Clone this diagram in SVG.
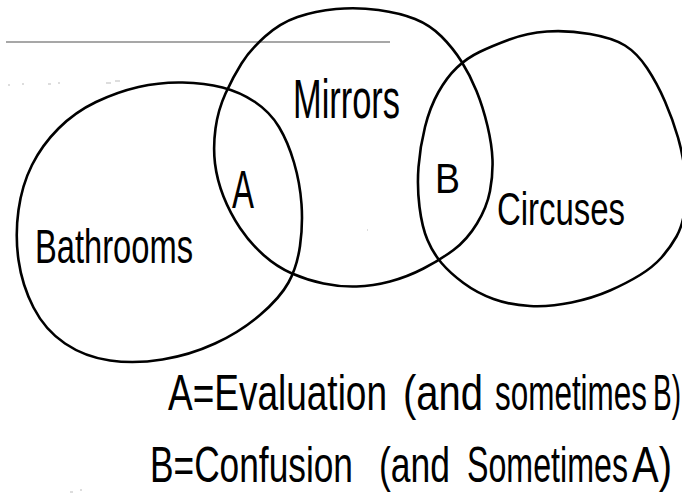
<svg xmlns="http://www.w3.org/2000/svg" width="682" height="495" viewBox="0 0 682 495">
<style>
.set{fill:none;stroke:#000;stroke-width:2.6;stroke-linejoin:round;stroke-linecap:round}
.lbl{font-family:"Liberation Sans",Arial,sans-serif;fill:#000}
.speck{stroke:#bbb;stroke-width:1.2;fill:none}
</style>
<rect width="682" height="495" fill="#fff"/>
<line x1="6" y1="42" x2="390" y2="42" stroke="#8a8a8a" stroke-width="1.6"/>
<g id="specks">
<path class="speck" d="M8,85h2M22,84h2M48,84h3M58,83h2M106,83h5M115,81h5M70,492h3M80,490h2M367,230h1"/>
</g>
<g id="connectors"></g>
<g id="bathrooms">
<path class="set" d="M96,102 Q117,92 138.5,87 Q160,82 182.5,82.5 Q205,83 222.5,87.5 Q240,92 255,102 Q270,112 279,127 Q288,142 294,162.5 Q300,183 301.5,204 Q303,225 300,246 Q297,267 288.5,282.5 Q280,298 260,315 Q240,332 215,343.5 Q190,355 162.5,359.5 Q135,364 110,360.5 Q85,357 65,343.5 Q45,330 33.5,307.5 Q22,285 18.5,260 Q15,235 18.5,210 Q22,185 32,165 Q42,145 58.5,128.5 Q75,112 96,102 Z"/>
<text class="lbl" x="35" y="263" font-size="48" textLength="158" lengthAdjust="spacingAndGlyphs">Bathrooms</text>
</g>
<g id="mirrors">
<path class="set" d="M336,9 Q357,7 378.5,10 Q400,13 415,19 Q430,25 441.5,36.5 Q453,48 461.5,61.5 Q470,75 476.5,91 Q483,107 487.5,126 Q492,145 492.5,160 Q493,175 490,191 Q487,207 477,223.5 Q467,240 453.5,250 Q440,260 423.5,268.5 Q407,277 390,281.5 Q373,286 356.5,286.5 Q340,287 323.5,283.5 Q307,280 292,273.5 Q277,267 263.5,255 Q250,243 240,228 Q230,213 223.5,196.5 Q217,180 215,163.5 Q213,147 215.5,128.5 Q218,110 225.5,93.5 Q233,77 241.5,63.5 Q250,50 265,36.5 Q280,23 297.5,17 Q315,11 336,9 Z"/>
<text class="lbl" x="293" y="118" font-size="56" textLength="107" lengthAdjust="spacingAndGlyphs">Mirrors</text>
</g>
<g id="circuses">
<path class="set" d="M547,31.5 Q567,30 590,34 Q613,38 625,45.5 Q637,53 647,68 Q657,83 665,101.5 Q673,120 678,137.5 Q683,155 685,172.5 Q687,190 685,207.5 Q683,225 676.5,236.5 Q670,248 661.5,257.5 Q653,267 640,275 Q627,283 610,290.5 Q593,298 571.5,302.5 Q550,307 530,306 Q510,305 493.5,299 Q477,293 463.5,283 Q450,273 441.5,263 Q433,253 427.5,240 Q422,227 419.5,207 Q417,187 418.5,167 Q420,147 425,127 Q430,107 438.5,92 Q447,77 457,67.5 Q467,58 479.5,52 Q492,46 509.5,39.5 Q527,33 547,31.5 Z"/>
<text class="lbl" x="497" y="225" font-size="46" textLength="128" lengthAdjust="spacingAndGlyphs">Circuses</text>
</g>
<g id="region-a">
<text class="lbl" x="232" y="208" font-size="54" textLength="22" lengthAdjust="spacingAndGlyphs">A</text>
</g>
<g id="region-b">
<text class="lbl" x="435" y="193" font-size="43" textLength="25" lengthAdjust="spacingAndGlyphs">B</text>
</g>
<g id="legend">
<text class="lbl" y="410" font-size="50"><tspan x="168" textLength="219" lengthAdjust="spacingAndGlyphs">A=Evaluation</tspan> <tspan x="403" textLength="80" lengthAdjust="spacingAndGlyphs">(and</tspan> <tspan x="495" textLength="152" lengthAdjust="spacingAndGlyphs">sometimes</tspan> <tspan x="653" textLength="28" lengthAdjust="spacingAndGlyphs">B)</tspan></text>
<text class="lbl" y="482" font-size="50"><tspan x="150" textLength="203" lengthAdjust="spacingAndGlyphs">B=Confusion</tspan> <tspan x="379" textLength="71" lengthAdjust="spacingAndGlyphs">(and</tspan> <tspan x="467" textLength="161" lengthAdjust="spacingAndGlyphs">Sometimes</tspan> <tspan x="632" textLength="40" lengthAdjust="spacingAndGlyphs">A)</tspan></text>
</g>
</svg>
